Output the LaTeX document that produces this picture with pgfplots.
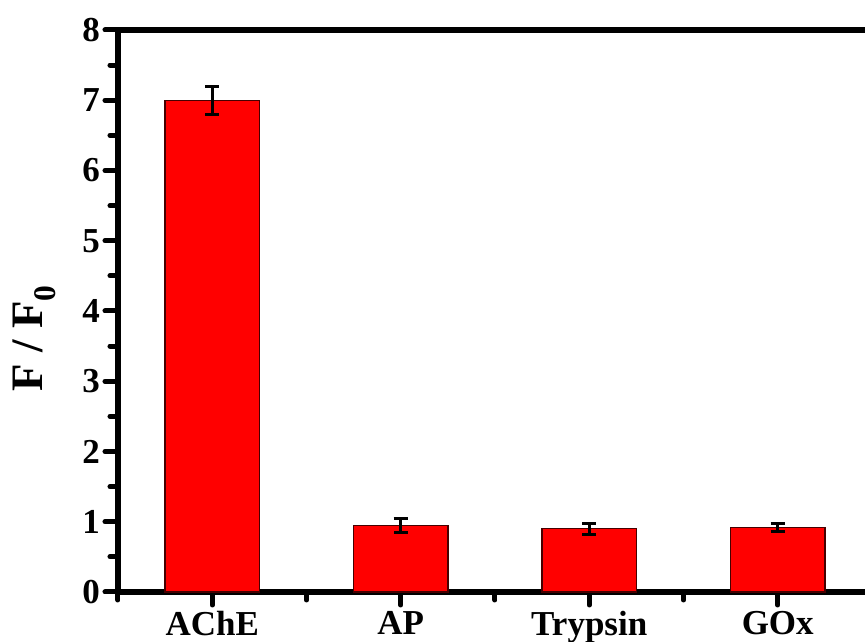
\documentclass[border=0pt]{standalone}
\usepackage{fontspec}
\setmainfont{Liberation Serif}
\usepackage{pgfplots}
\pgfplotsset{compat=1.18}
\definecolor{barred}{RGB}{255,0,0}
\definecolor{baredge}{RGB}{70,0,0}
\begin{document}
\begin{tikzpicture}
\begin{axis}[
  scale only axis, width=747pt, height=562pt,
  xmin=-0.5, xmax=3.463, ymin=0, ymax=8,
  clip=false,
  axis x line*=bottom, axis y line*=left,
  axis line style={line width=5.5pt, black},
  tick align=outside,
  major tick length=13pt, minor tick length=8pt,
  every tick/.style={line width=5pt, black, line cap=round},
  xtick={0,1,2,3}, xticklabels={AChE,AP,Trypsin,GOx},
  minor xtick={-0.5,0.5,1.5,2.5},
  ytick={0,1,2,3,4,5,6,7,8}, yticklabels={0,1,2,3,4,5,6,7,8},
  minor ytick={0.5,1.5,2.5,3.5,4.5,5.5,6.5,7.5},
  tick label style={font=\fontsize{35}{35}\selectfont\bfseries},
  yticklabel style={inner sep=5pt},
  xticklabel style={inner sep=6.5pt},
  every axis y label/.style={at={(axis description cs:-0.1004,0.452)},rotate=90,anchor=base},
  ylabel={\fontsize{45}{45}\selectfont\bfseries F / F\textsubscript{0}},
  ybar, bar width=0.5,
]
\coordinate (O) at (rel axis cs:0,0);
\addplot[fill=barred, draw=baredge, line width=1.3pt,
  error bars/.cd, y dir=both, y explicit,
  error bar style={line width=3pt, black},
  error mark options={rotate=90, mark size=7pt, line width=3pt, black}]
  coordinates {
    (0,7.0) +- (0,0.20)
    (1,0.95) +- (0,0.10)
    (2,0.90) +- (0,0.08)
    (3,0.92) +- (0,0.055)
  };
\draw[line width=5.5pt, black] (rel axis cs:0,1) -- (rel axis cs:1,1);
\end{axis}
\pgfresetboundingbox
\path[use as bounding box] (O) ++(-118pt,-50pt) rectangle ++(865pt,642pt);
\end{tikzpicture}
\end{document}
